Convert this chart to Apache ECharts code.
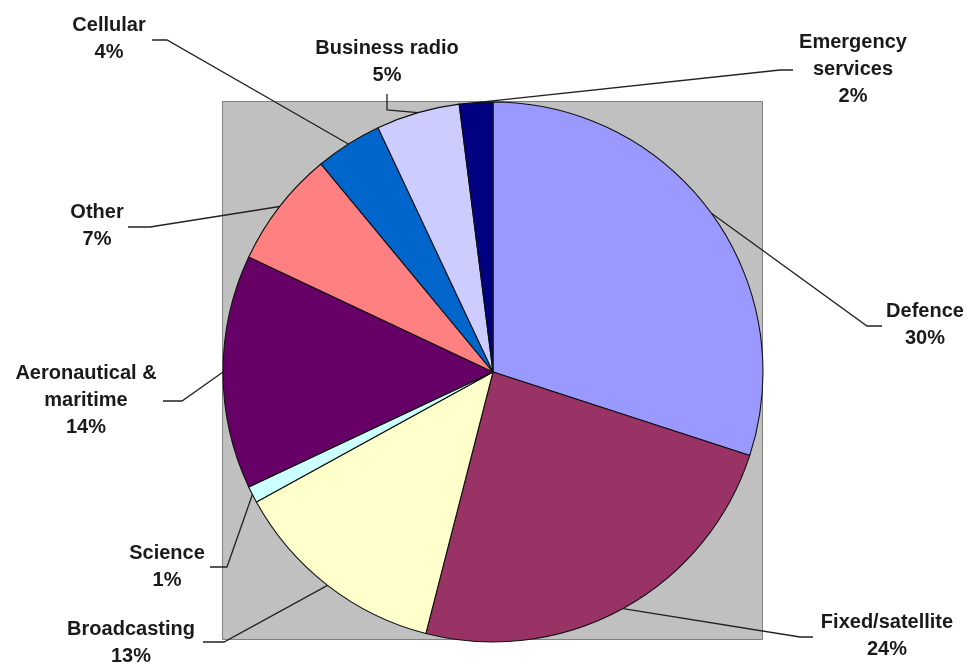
<!DOCTYPE html>
<html>
<head>
<meta charset="utf-8">
<script src="https://cdn.jsdelivr.net/npm/echarts@6/dist/echarts.min.js"></script>
<style>html,body{margin:0;padding:0;background:#fff;}#c{width:969px;height:665px;}</style>
</head>
<body>
<div id="c"></div>
<script>
// ---- data ----
const categories = ['Defence', 'Fixed/satellite', 'Broadcasting', 'Science', 'Aeronautical &\nmaritime', 'Other', 'Cellular', 'Business radio', 'Emergency\nservices'];
const shares = [30, 24, 13, 1, 14, 7, 4, 5, 2];
const colors = ['#9999FF', '#993366', '#FFFFCC', '#CCFFFF', '#660066', '#FF8080', '#0066CC', '#CCCCFF', '#000080'];

// ---- layout (label placement, not data) ----
const CX = 493, CY = 372, R = 270;
const labelPos = [[925, 325], [887, 636], [131, 643], [167, 567], [86, 400], [97, 226], [109, 39], [387, 62], [853, 69]];
const lineBend = [[867, 326], [800, 637], [224, 642], [227, 567], [182, 401], [150, 227], [167, 40], [387, 110], [780, 70]];
const lineEnd  = [[882, 326], [813, 637], [203, 642], [210, 567], [163, 401], [128, 227], [152, 40], [387, 94], [793, 70]];

const chart = echarts.init(document.getElementById('c'), null, {renderer: 'canvas'});
const total = shares.reduce((a, b) => a + b, 0);

chart.setOption({
  backgroundColor: '#ffffff',
  animation: false,
  graphic: [{
    type: 'rect', z: -10,
    shape: {x: CX - R - 0.5, y: CY - R - 0.5, width: 2 * R, height: 2 * R - 2},
    style: {fill: '#C0C0C0', stroke: '#808080', lineWidth: 1}
  }],
  series: [{
    type: 'pie',
    center: [CX, CY],
    radius: R,
    startAngle: 90,
    clockwise: true,
    avoidLabelOverlap: false,
    minShowLabelAngle: 0,
    data: categories.map((name, i) => ({name: name, value: shares[i], itemStyle: {color: colors[i]}})),
    itemStyle: {borderColor: '#111', borderWidth: 1.1},
    label: {
      show: true,
      position: 'outside',
      formatter: p => p.name + '\n' + p.value + '%',
      fontFamily: 'Liberation Sans, Arial, sans-serif',
      fontWeight: 'bold',
      fontSize: 20,
      lineHeight: 27,
      color: '#1a1a1a'
    },
    labelLine: {show: true, length: 20, length2: 10, lineStyle: {color: '#222', width: 1.3}},
    emphasis: {disabled: true},
    labelLayout: function (params) {
      const i = params.dataIndex;
      let p0;
      if (params.labelLinePoints && params.labelLinePoints.length) {
        p0 = params.labelLinePoints[0];
      } else {
        let before = 0;
        for (let k = 0; k < i; k++) before += shares[k];
        const a = (before + shares[i] / 2) / total * 2 * Math.PI;
        p0 = [CX + R * Math.sin(a), CY - R * Math.cos(a)];
      }
      return {
        x: labelPos[i][0], y: labelPos[i][1],
        align: 'center', verticalAlign: 'middle',
        labelLinePoints: [p0, lineBend[i], lineEnd[i]]
      };
    }
  }]
});
</script>
</body>
</html>
